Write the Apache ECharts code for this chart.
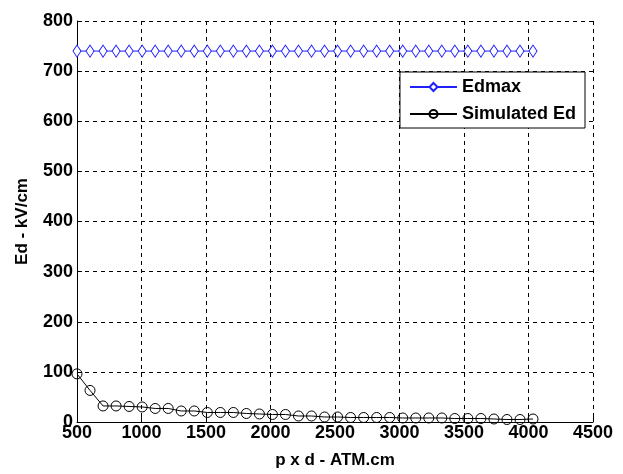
<!DOCTYPE html>
<html><head><meta charset="utf-8">
<script src="https://cdn.jsdelivr.net/npm/echarts@6/dist/echarts.min.js"></script>
<style>html,body{margin:0;padding:0;background:#fff}#c{width:623px;height:474px}</style>
</head><body><div id="c"></div>
<script>
const pd = [500,601,702,803,904,1005,1106,1207,1308,1409,1510,1611,1712,1813,1914,2015,2116,2217,2318,2419,2520,2621,2722,2823,2924,3025,3126,3227,3328,3429,3530,3631,3732,3833,3934,4035];
const edmax = [740,740,740,740,740,740,740,740,740,740,740,740,740,740,740,740,740,740,740,740,740,740,740,740,740,740,740,740,740,740,740,740,740,740,740,740];
const simEd = [96,63,32,32,31,30,27,27,22,22,19,19,19,17,16,15,15,12,12,10,10,9,9,9,9,8,8,8,8,7,7,7,6,5,5,6];
const xTicks = ['500','1000','1500','2000','2500','3000','3500','4000','4500'];
const yTicks = ['0','100','200','300','400','500','600','700','800'];

const font = 'Liberation Sans, Arial, sans-serif';
const chart = echarts.init(document.getElementById('c'), null, {renderer:'canvas'});
chart.setOption({
  animation:false,
  backgroundColor:'#fff',
  grid:{left:77, right:30, top:21, bottom:46, show:false},
  legend:{
    orient:'vertical', right:38, top:72,
    backgroundColor:'#fff', borderColor:'#000', borderWidth:1,
    padding:[6,9,5,9], itemGap:9, itemWidth:47, itemHeight:10,
    textStyle:{fontFamily:font, fontWeight:'bold', fontSize:18, color:'#000'},
    data:['Edmax','Simulated Ed']
  },
  xAxis:{
    type:'value', min:500, max:4500, interval:500,
    name:'p x d - ATM.cm', nameLocation:'middle', nameGap:30,
    nameTextStyle:{fontFamily:font, fontWeight:'bold', fontSize:17, color:'#000'},
    axisLine:{show:true, lineStyle:{color:'#000', width:1}},
    axisTick:{show:true, inside:true, length:5, lineStyle:{color:'#000'}},
    axisLabel:{fontFamily:font, fontWeight:'bold', fontSize:18, color:'#000', margin:2,
      formatter:(v)=>xTicks[Math.round((v-500)/500)]},
    splitLine:{show:true, lineStyle:{color:'#000', type:[4,4], width:1}}
  },
  yAxis:{
    type:'value', min:0, max:800, interval:100,
    name:'Ed - kV/cm', nameLocation:'middle', nameGap:46,
    nameTextStyle:{fontFamily:font, fontWeight:'bold', fontSize:17, color:'#000'},
    axisLine:{show:true, lineStyle:{color:'#000', width:1}},
    axisTick:{show:true, inside:true, length:5, lineStyle:{color:'#000'}},
    axisLabel:{fontFamily:font, fontWeight:'bold', fontSize:18, color:'#000', margin:4,
      formatter:(v)=>yTicks[Math.round(v/100)]},
    splitLine:{show:true, lineStyle:{color:'#000', type:[4,4], width:1}}
  },
  series:[
    {name:'Edmax', type:'line', data:pd.map((x,i)=>[x,edmax[i]]),
     symbol:'diamond', symbolSize:[8,12], showAllSymbol:true,
     lineStyle:{color:'#2020ff', width:1},
     itemStyle:{color:'#fff', borderColor:'#2020ff', borderWidth:1}},
    {name:'Simulated Ed', type:'line', data:pd.map((x,i)=>[x,simEd[i]]),
     symbol:'circle', symbolSize:10, showAllSymbol:true,
     lineStyle:{color:'#000', width:1},
     itemStyle:{color:'rgba(255,255,255,0)', borderColor:'#000', borderWidth:1}}
  ]
});
</script></body></html>
